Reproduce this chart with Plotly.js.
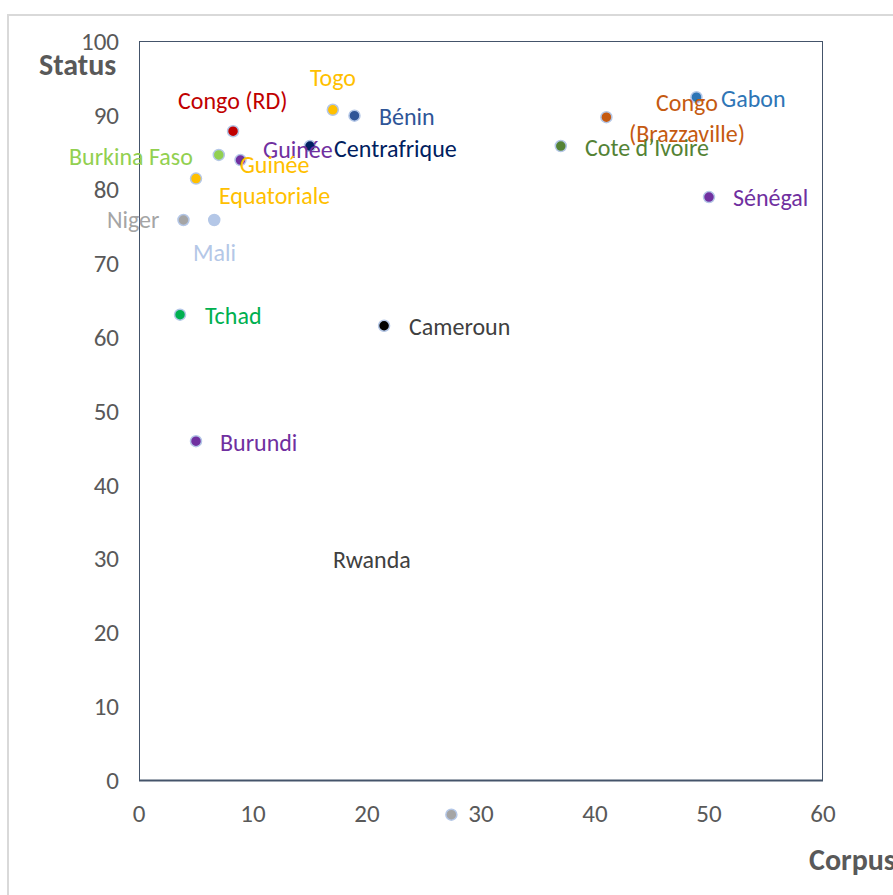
<!DOCTYPE html>
<html>
<head>
<meta charset="utf-8">
<script src="https://cdn.plot.ly/plotly-3.0.1.min.js"></script>
<style>html,body{margin:0;padding:0;background:#fff;}#chart{width:893px;height:895px;}</style>
</head>
<body>
<div id="chart"></div>
<script>
// ---- data ----
const countries = ["Congo (RD)","Togo","Bénin","Burkina Faso","Guinée","Guinée<br>Equatoriale","Centrafrique","Niger","Mali","Tchad","Cameroun","Burundi","Rwanda","Gabon","Congo<br>(Brazzaville)","Cote d’Ivoire","Sénégal"];
const corpus = [8.25, 17.0, 18.9, 7.0, 8.9, 5.0, 15.0, 3.9, 6.6, 3.6, 21.5, 5.0, 27.4, 48.9, 41.0, 37.0, 50.0];
const status = [87.8, 90.7, 89.9, 84.6, 83.9, 81.4, 85.8, 75.8, 75.8, 63.0, 61.5, 45.9, -4.6, 92.4, 89.7, 85.8, 78.9];
const markerColors = ["#C00000","#FFC000","#2F5597","#92D050","#7030A0","#FFC000","#002060","#A5A5A5","#B4C7E7","#00B050","#000000","#7030A0","#A5A5A5","#2E75B6","#C55A11","#548235","#7030A0"];
const labelColors = ["#C00000","#FFC000","#2F5597","#92D050","#7030A0","#FFC000","#002060","#A5A5A5","#B4C7E7","#00B050","#404040","#7030A0","#404040","#2E75B6","#C55A11","#548235","#7030A0"];
const xTicks = [0,10,20,30,40,50,60];
const yTicks = [0,10,20,30,40,50,60,70,80,90,100];

// label placement (pixels relative to each point): [xanchor, xshift, yshift]
const labelPlacement = [
  ["center",0,31],["center",0,32],["left",23,-1],["right",-24,-2],["center",58,11],
  ["center",78,-1],["left",22,-2],["right",-22,0],["center",0,-33],["left",23,-1],
  ["left",23,-1],["left",22,-1],["center",-79,255],["left",23,-1],["center",81,-1],
  ["left",22,-1],["left",22,0]
];

const FONT = "Carlito, Calibri, Lato, sans-serif";
const Y_MIN = -6, Y_MAX = 100, X_MIN = 0, X_MAX = 60;

const trace = {
  type: "scatter",
  mode: "markers",
  x: corpus,
  y: status,
  cliponaxis: false,
  hoverinfo: "skip",
  marker: {size: 11, color: markerColors, line: {color: "#B4C7E7", width: 1.5}}
};

const annotations = countries.map((c, i) => ({
  x: corpus[i], y: status[i], xref: "x", yref: "y",
  text: c, showarrow: false,
  xanchor: labelPlacement[i][0], yanchor: "middle",
  xshift: labelPlacement[i][1], yshift: labelPlacement[i][2],
  font: {family: FONT, size: 24, color: labelColors[i]}
}));

annotations.push({
  xref: "paper", yref: "paper", x: -0.0307, y: 0.9694, xanchor: "right", yanchor: "middle",
  text: "<b>Status</b>", showarrow: false, font: {family: FONT, size: 30, color: "#595959"}
});
annotations.push({
  xref: "paper", yref: "paper", x: 0.9766, y: -0.0446, xanchor: "left", yanchor: "middle",
  text: "<b>Corpus</b>", showarrow: false, font: {family: FONT, size: 30, color: "#595959"}
});

const layout = {
  width: 893, height: 895,
  margin: {l: 139, r: 70, t: 41, b: 70},
  paper_bgcolor: "#ffffff", plot_bgcolor: "#ffffff",
  showlegend: false,
  xaxis: {
    range: [X_MIN, X_MAX], tickvals: xTicks, showgrid: false, zeroline: false,
    showline: false, anchor: "free", position: (0 - Y_MIN) / (Y_MAX - Y_MIN),
    ticks: "", ticklabelstandoff: 15,
    tickfont: {family: FONT, size: 25, color: "#595959"}
  },
  yaxis: {
    range: [Y_MIN, Y_MAX], tickvals: yTicks, showgrid: false, zeroline: false,
    showline: false,
    ticks: "", ticklabelstandoff: 19,
    tickfont: {family: FONT, size: 25, color: "#595959"}
  },
  shapes: [
    {
      type: "rect", xref: "paper", yref: "paper",
      x0: -0.1915, x1: 1.2, y0: -0.2, y1: 1.0332,
      line: {color: "#D9D9D9", width: 2}, fillcolor: "rgba(0,0,0,0)", layer: "below"
    },
    {
      type: "rect", xref: "x", yref: "y",
      x0: X_MIN, x1: X_MAX, y0: 0, y1: Y_MAX,
      line: {color: "#44546A", width: 2}, fillcolor: "rgba(0,0,0,0)", layer: "below"
    }
  ],
  annotations: annotations
};

Plotly.newPlot("chart", [trace], layout, {displayModeBar: false, staticPlot: true});
</script>
</body>
</html>
